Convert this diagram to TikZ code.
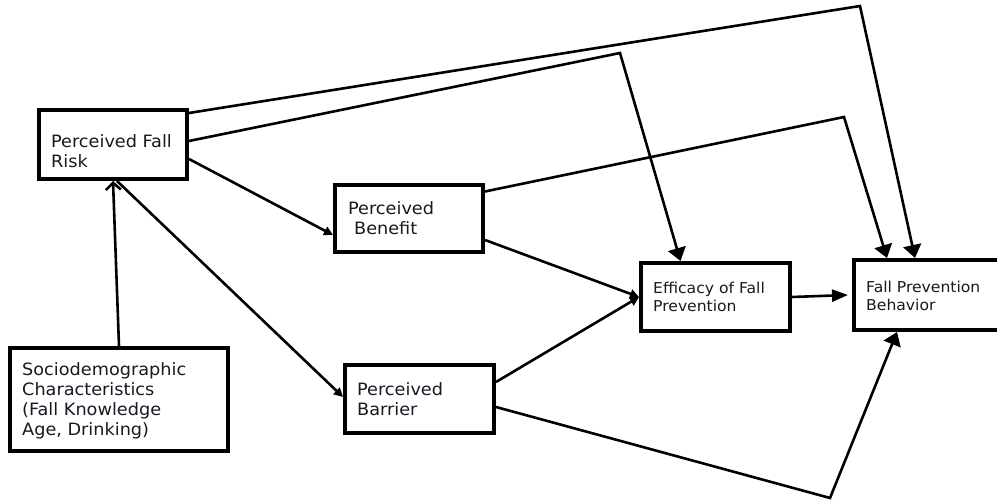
\documentclass[tikz,border=0pt]{standalone}
\usepackage{fontspec}
\setmainfont{DejaVu Sans}[FakeStretch=1.04]
\usetikzlibrary{arrows.meta}
\definecolor{textc}{rgb}{0.1,0.1,0.14}
\newcommand\mylines[1]{\begin{tabular}[t]{@{}l@{}}#1\end{tabular}}
\begin{document}
\begin{tikzpicture}[x=1pt,y=-1pt,
  box/.style={draw=black, line width=4pt, inner sep=0pt, fill=white},
  txt/.style={anchor=base west, inner sep=0pt, text=textc, font=\fontsize{17}{20}\selectfont},
  txts/.style={anchor=base west, inner sep=0pt, text=textc, font=\fontsize{15}{18}\selectfont},
  conn/.style={draw=black, line width=2.6pt},
  bigtip/.tip={Triangle[length=13pt,width=18pt]},
  midtip/.tip={Triangle[length=16pt,width=12pt]},
  smalltip/.tip={Triangle[length=9pt,width=9pt]},
  barbtip/.tip={Straight Barb[length=7pt,width=15pt]}]
\fill[white] (0,0) rectangle (997,502);
\useasboundingbox (0,0) rectangle (997,502);
% boxes
\node[box, minimum width=148pt, minimum height=69pt] (pfr) at (113,144.5) {};
\node[box, minimum width=148pt, minimum height=67pt] (ben) at (409,218.5) {};
\node[box, minimum width=218pt, minimum height=103pt] (soc) at (119,399.5) {};
\node[box, minimum width=149pt, minimum height=68pt] (bar) at (419.5,399) {};
\node[box, minimum width=149pt, minimum height=68pt] (eff) at (715.5,297) {};
\node[box, minimum width=146pt, minimum height=70pt] (fpb) at (927,295) {};
% texts
\node[txt] (pfrt) at (51,148) {\mylines{Perceived Fall\\Risk}};
\node[txt] (bent) at (348,215) {\mylines{Perceived\\\hspace*{0.35em}Benefit}};
\node[txt] (soct) at (22,376) {\mylines{Sociodemographic\\Characteristics\\(Fall Knowledge\\Age, Drinking)}};
\node[txt] (bart) at (357,396) {\mylines{Perceived\\Barrier}};
\node[txts] (efft) at (653,294) {\mylines{Efficacy of Fall\\Prevention}};
\node[txts] (fpbt) at (866,293) {\mylines{Fall Prevention\\Behavior}};
% bend points
\coordinate (c1) at (860,6);
\coordinate (c2) at (620,53);
\coordinate (c3) at (844,117);
\coordinate (c4) at (830,498);
% connectors
\draw[conn, -bigtip] ([yshift=-5pt]pfr.north east) -- (c1) -- ([xshift=-12pt]fpb.north);
\draw[conn, -bigtip] ([yshift=3.5pt]pfr.east) -- (c2) -- ([xshift=-35pt]eff.north);
\draw[conn, -bigtip] ([yshift=27pt]ben.east) -- (c3) -- ([xshift=-40pt]fpb.north);
\draw[conn, -smalltip] ([yshift=-14.5pt]pfr.east) -- ([yshift=-16.5pt]ben.west);
\draw[conn, -barbtip] (soc.north) -- (pfr.south);
\draw[conn, -smalltip] ([xshift=4pt]pfr.south) -- ([yshift=2pt]bar.west);
\draw[conn, -smalltip] ([yshift=-21.5pt]ben.east) -- (eff.west);
\draw[conn, -smalltip] ([yshift=17pt]bar.east) -- (eff.west);
\draw[conn, -midtip] (eff.east) -- ([xshift=-4pt]fpb.west);
\draw[conn, -bigtip] ([yshift=-8pt]bar.east) -- (c4) -- ([xshift=-30pt]fpb.south);
\end{tikzpicture}
\end{document}
